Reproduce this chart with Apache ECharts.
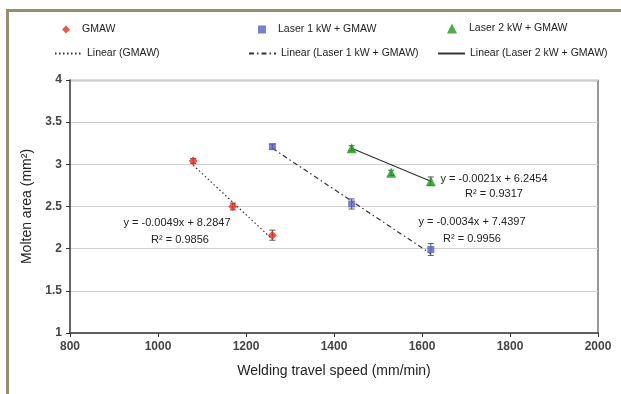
<!DOCTYPE html>
<html><head><meta charset="utf-8">
<script src="https://cdn.jsdelivr.net/npm/echarts@6/dist/echarts.min.js"></script>
<style>html,body{margin:0;padding:0;background:#fff}#c{width:621px;height:394px}</style>
</head><body><div id="c"></div>
<script>
const xTicks = [800, 1000, 1200, 1400, 1600, 1800, 2000];
const yTicks = [1, 1.5, 2, 2.5, 3, 3.5, 4];
const gmawX = [1080, 1170, 1260];
const gmawY = [3.04, 2.50, 2.16];
const gmawErr = [0.03, 0.04, 0.06];
const laser1X = [1260, 1440, 1620];
const laser1Y = [3.21, 2.53, 1.99];
const laser1Err = [0.03, 0.06, 0.07];
const laser2X = [1440, 1530, 1620];
const laser2Y = [3.19, 2.90, 2.80];
const laser2Err = [0.03, 0.03, 0.05];
const gmawTrendX = [1080, 1260];
const gmawTrendY = [2.99, 2.11];
const laser1TrendX = [1260, 1620];
const laser1TrendY = [3.19, 1.94];
const laser2TrendX = [1440, 1620];
const laser2TrendY = [3.19, 2.80];
const names = ['GMAW', 'Laser 1 kW + GMAW', 'Laser 2 kW + GMAW',
  'Linear (GMAW)', 'Linear (Laser 1 kW + GMAW)', 'Linear (Laser 2 kW + GMAW)'];
const equations = ['y = -0.0049x + 8.2847', 'y = -0.0034x + 7.4397', 'y = -0.0021x + 6.2454'];
const r2 = ['0.9856', '0.9956', '0.9317'];

const zip = (xs, ys) => xs.map((x, i) => [x, ys[i]]);
const errData = (xs, ys, es) => xs.map((x, i) => [x, ys[i] - es[i], ys[i] + es[i]]);
function errSeries(xs, ys, es) {
  return {
    type: 'custom', silent: true, z: 1,
    renderItem: function (params, api) {
      const x = api.value(0);
      const lo = api.coord([x, api.value(1)]);
      const hi = api.coord([x, api.value(2)]);
      const w = 3;
      const st = { stroke: '#555', lineWidth: 1 };
      return { type: 'group', children: [
        { type: 'line', shape: { x1: lo[0], y1: lo[1], x2: hi[0], y2: hi[1] }, style: st },
        { type: 'line', shape: { x1: lo[0] - w, y1: lo[1], x2: lo[0] + w, y2: lo[1] }, style: st },
        { type: 'line', shape: { x1: hi[0] - w, y1: hi[1], x2: hi[0] + w, y2: hi[1] }, style: st }
      ]};
    },
    data: errData(xs, ys, es)
  };
}

const chart = echarts.init(document.getElementById('c'));
const font = 'Liberation Sans, Arial, sans-serif';
const legendPos = [[62, 24], [258, 24], [447, 23], [54, 48], [248, 48], [437, 48]];
const legendIcons = ['diamond', 'rect', 'triangle'];
const legends = names.map((n, i) => {
  const isLine = i >= 3;
  const lg = {
    data: [isLine ? n : { name: n, icon: legendIcons[i] }],
    left: legendPos[i][0], top: legendPos[i][1],
    selectedMode: false, padding: 0, itemGap: 0,
    textStyle: { fontFamily: font, fontSize: 10.5, color: '#222', padding: [0, 0, 0, isLine ? 0 : 7] },
    itemWidth: isLine ? 27 : (i === 2 ? 10 : 8),
    itemHeight: isLine ? 10 : (i === 2 ? 10 : 8)
  };
  if (isLine) lg.itemStyle = { color: 'rgba(0,0,0,0)', borderWidth: 0, borderColor: 'rgba(0,0,0,0)' };
  return lg;
});

function annot(text, cx, cy) {
  return { type: 'text', x: cx, y: cy, style: { text: text, font: '11px ' + font, fill: '#222', textAlign: 'center', textVerticalAlign: 'middle' } };
}

chart.setOption({
  animation: false,
  legend: legends,
  grid: { left: 70, top: 80, right: 23, bottom: 61 },
  xAxis: {
    type: 'value', min: 800, max: 2000, interval: 200,
    name: 'Welding travel speed (mm/min)', nameLocation: 'middle', nameGap: 31,
    nameTextStyle: { fontFamily: font, fontSize: 14, color: '#222' },
    axisLine: { lineStyle: { color: '#333', width: 1.5 } },
    axisTick: { show: true, length: 4, inside: false, lineStyle: { color: '#333' } },
    axisLabel: { fontFamily: font, fontSize: 12, color: '#444', margin: 8, fontWeight: 'bold',
      formatter: v => xTicks.includes(v) ? String(v) : '' },
    splitLine: { show: false }
  },
  yAxis: {
    type: 'value', min: 1, max: 4, interval: 0.5,
    name: 'Molten area (mm²)', nameLocation: 'middle', nameGap: 30, nameRotate: 90,
    nameTextStyle: { fontFamily: font, fontSize: 14, color: '#222' },
    axisLine: { show: true, lineStyle: { color: '#333', width: 1.5 } },
    axisTick: { show: true, length: 4, lineStyle: { color: '#333' } },
    axisLabel: { fontFamily: font, fontSize: 12, color: '#444', margin: 8, fontWeight: 'bold',
      formatter: v => yTicks.includes(v) ? String(v) : '' },
    splitLine: { show: true, lineStyle: { color: '#cfcfcf', width: 1 } }
  },
  graphic: [
    { type: 'polyline', shape: { points: [[7.5, 420], [7.5, 10.5], [640, 10.5]] }, style: { stroke: '#958f6d', lineWidth: 3, fill: null } },
    { type: 'polyline', shape: { points: [[70, 80.5], [598, 80.5], [598, 333]] }, style: { stroke: '#777', lineWidth: 1.5, fill: null }, z: 0 },
    annot(equations[0], 177, 223),
    annot('R² = ' + r2[0], 180, 240),
    annot(equations[1], 472, 222),
    annot('R² = ' + r2[1], 472, 239),
    annot(equations[2], 494, 179),
    annot('R² = ' + r2[2], 494, 194)
  ],
  series: [
    { name: names[0], type: 'scatter', symbol: 'diamond', symbolSize: 9, z: 5, itemStyle: { color: '#f0281e' }, data: zip(gmawX, gmawY) },
    { name: names[1], type: 'scatter', symbol: 'rect', symbolSize: 7, z: 5, itemStyle: { color: '#5560c8' }, data: zip(laser1X, laser1Y) },
    { name: names[2], type: 'scatter', symbol: 'triangle', symbolSize: 10, z: 5, itemStyle: { color: '#1a9a1a' }, data: zip(laser2X, laser2Y) },
    { name: names[3], type: 'line', symbol: 'none', z: 3, lineStyle: { color: '#333', width: 1.2, type: [1.5, 2.5] }, itemStyle: { color: '#333' }, data: zip(gmawTrendX, gmawTrendY) },
    { name: names[4], type: 'line', symbol: 'none', z: 3, lineStyle: { color: '#333', width: 1.2, type: [5, 3, 1.5, 3] }, itemStyle: { color: '#333' }, data: zip(laser1TrendX, laser1TrendY) },
    { name: names[5], type: 'line', symbol: 'none', z: 3, lineStyle: { color: '#333', width: 1.2 }, itemStyle: { color: '#333' }, data: zip(laser2TrendX, laser2TrendY) },
    errSeries(gmawX, gmawY, gmawErr),
    errSeries(laser1X, laser1Y, laser1Err),
    errSeries(laser2X, laser2Y, laser2Err)
  ]
});
</script></body></html>
